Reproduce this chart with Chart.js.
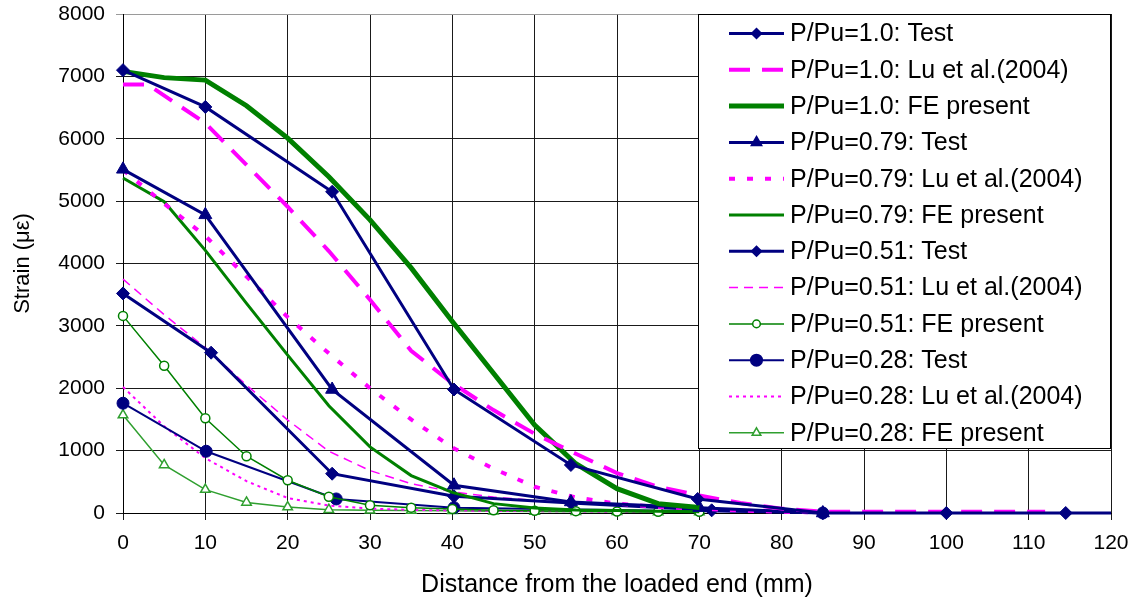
<!DOCTYPE html>
<html lang="en">
<head>
<meta charset="UTF-8">
<title>Strain vs distance from the loaded end</title>
<script src="https://cdn.jsdelivr.net/npm/chart.js@4"></script>
<style>
  html, body { margin: 0; padding: 0; background: #fff; }
  #wrap { width: 1142px; height: 603px; }
</style>
</head>
<body>
<div id="wrap"><canvas id="strainChart" width="1142" height="603"></canvas></div>
<script>
// data (distance in mm, strain in micro-strain)
const xTest10 = [0, 10, 25.4, 40.2, 54.4, 69.8, 85, 100, 114.5, 125];
const yTest10 = [7100, 6510, 5150, 1980, 770, 225, 0, 0, 0, 0];
const xLu10 = [0, 3, 10, 15, 20, 25, 30, 35, 40, 45, 50, 55, 60, 65, 70, 75, 80, 85, 90, 100, 112];
const yLu10 = [6870, 6870, 6250, 5580, 4910, 4200, 3420, 2600, 2080, 1650, 1270, 950, 640, 420, 280, 160, 70, 20, 20, 20, 20];
const xFE10 = [0, 5, 10, 15, 20, 25, 30, 35, 40, 45, 50, 55, 60, 65, 70];
const yFE10 = [7080, 6980, 6940, 6530, 6010, 5390, 4700, 3930, 3070, 2240, 1410, 790, 390, 150, 90];

const xTest079 = [0, 10, 25.4, 40.2, 54.4, 70, 85];
const yTest079 = [5510, 4780, 1980, 445, 177, 86, 0];
const xLu079 = [0, 5, 10, 15, 20, 25, 30, 35, 40, 45, 50, 55, 60, 65, 70, 75, 80, 85];
const yLu079 = [5500, 4960, 4440, 3790, 3140, 2560, 2000, 1500, 1050, 710, 420, 250, 150, 95, 70, 40, 20, 10];
const xFE079 = [0, 5, 10, 15, 20, 25, 30, 35, 40, 45, 50, 55, 60, 65, 70];
const yFE079 = [5370, 4990, 4210, 3360, 2530, 1720, 1060, 600, 330, 150, 80, 50, 40, 30, 20];

const xTest051 = [0, 10.7, 25.4, 40.2, 54.4, 71.5, 85];
const yTest051 = [3520, 2570, 630, 268, 160, 43, 0];
const xLu051 = [0, 5, 10, 15, 20, 25, 30, 35, 40, 45, 50, 55, 60, 65, 70, 75, 80];
const yLu051 = [3750, 3180, 2650, 2050, 1490, 990, 680, 470, 340, 255, 200, 160, 120, 90, 60, 40, 20];
const xFE051 = [0, 5, 10, 15, 20, 25, 30, 35, 40, 45, 50, 55, 60, 65, 70];
const yFE051 = [3160, 2360, 1520, 910, 525, 260, 124, 86, 65, 45, 35, 30, 25, 20, 20];

const xTest028 = [0, 10.1, 25.9, 40.2, 85];
const yTest028 = [1760, 990, 225, 86, 0];
const xLu028 = [0, 5, 10, 15, 20, 25, 30, 35, 40, 45, 50, 55, 60, 65, 70];
const yLu028 = [2020, 1390, 880, 510, 240, 120, 70, 50, 40, 35, 30, 25, 20, 20, 15];
const xFE028 = [0, 5, 10, 15, 20, 25, 30, 35, 40, 45, 50, 55, 60, 65, 70];
const yFE028 = [1570, 770, 375, 170, 96, 54, 43, 40, 35, 30, 25, 20, 20, 15, 15];

const xTicks = [0, 10, 20, 30, 40, 50, 60, 70, 80, 90, 100, 110, 120];
const yTicks = [0, 1000, 2000, 3000, 4000, 5000, 6000, 7000, 8000];

const NAVY = '#000080';
const PINK = '#FF00FF';
const GREEN = '#008000';
const LGREEN = '#2F9F2F';
const FONT = "'Liberation Sans', Arial, sans-serif";

function pts(xs, ys) {
    return xs.map((x, i) => ({ x: x, y: ys[i] }));
}

// one helper per kind of series so the options stay short
function testSet(label, xs, ys, style, r, lw, legR) {
    return {
        label: label, data: pts(xs, ys),
        borderColor: NAVY, backgroundColor: NAVY, borderWidth: lw,
        pointStyle: style, pointRadius: r, pointBackgroundColor: NAVY,
        pointBorderColor: NAVY, pointBorderWidth: 1, legR: legR
    };
}
function luSet(label, xs, ys, lw, dash) {
    return {
        label: label, data: pts(xs, ys),
        borderColor: PINK, backgroundColor: PINK, borderWidth: lw,
        borderDash: dash, pointRadius: 0, legR: 0
    };
}
function feSet(label, xs, ys, color, lw, style, r, legR) {
    return {
        label: label, data: pts(xs, ys),
        borderColor: color, backgroundColor: color, borderWidth: lw,
        pointStyle: style || 'circle', pointRadius: r || 0,
        pointBackgroundColor: '#ffffff', pointBorderColor: color,
        pointBorderWidth: 1.5, legR: legR || 0
    };
}

const datasets = [
    testSet('P/Pu=1.0: Test', xTest10, yTest10, 'rectRot', 6.5, 3, 5),
    luSet('P/Pu=1.0: Lu et al.(2004)', xLu10, yLu10, 4, [21, 12]),
    feSet('P/Pu=1.0: FE present', xFE10, yFE10, GREEN, 5),
    testSet('P/Pu=0.79: Test', xTest079, yTest079, 'triangle', 7.5, 3, 6),
    luSet('P/Pu=0.79: Lu et al.(2004)', xLu079, yLu079, 4, [6, 12]),
    feSet('P/Pu=0.79: FE present', xFE079, yFE079, GREEN, 3),
    testSet('P/Pu=0.51: Test', xTest051, yTest051, 'rectRot', 6.5, 3, 5),
    luSet('P/Pu=0.51: Lu et al.(2004)', xLu051, yLu051, 1.5, [9, 6]),
    feSet('P/Pu=0.51: FE present', xFE051, yFE051, GREEN, 1.5, 'circle', 4.5, 3.8),
    testSet('P/Pu=0.28: Test', xTest028, yTest028, 'circle', 6, 2, 5.8),
    luSet('P/Pu=0.28: Lu et al.(2004)', xLu028, yLu028, 2, [3, 4]),
    feSet('P/Pu=0.28: FE present', xFE028, yFE028, LGREEN, 1.5, 'triangle', 5.5, 5)
];
datasets.forEach(d => {
    d.tension = 0;
    d.fill = false;
    d.clip = { left: 12, top: 12, right: 0, bottom: 12 };
});

function drawMarker(ctx, style, x, y, r, fill, stroke) {
    ctx.save();
    ctx.beginPath();
    if (style === 'rectRot') {
        ctx.moveTo(x - r, y); ctx.lineTo(x, y - r); ctx.lineTo(x + r, y); ctx.lineTo(x, y + r);
        ctx.closePath();
    } else if (style === 'triangle') {
        ctx.moveTo(x, y - r); ctx.lineTo(x + r * 0.866, y + r * 0.5); ctx.lineTo(x - r * 0.866, y + r * 0.5);
        ctx.closePath();
    } else {
        ctx.arc(x, y, r, 0, Math.PI * 2);
    }
    ctx.fillStyle = fill;
    ctx.fill();
    ctx.setLineDash([]);
    ctx.lineWidth = 1.5;
    ctx.strokeStyle = stroke;
    ctx.stroke();
    ctx.restore();
}

// boxed legend sitting in the top right corner of the plot, like the original
const boxLegend = {
    id: 'boxLegend',
    afterDraw(chart) {
        const ctx = chart.ctx;
        const area = chart.chartArea;
        const w = 413, h = 435;
        const left = area.right - w, top = area.top;
        ctx.save();
        ctx.fillStyle = '#ffffff';
        ctx.fillRect(left, top, w, h);
        ctx.strokeStyle = '#000000';
        ctx.lineWidth = 1;
        ctx.strokeRect(left + 0.5, top + 0.5, w - 1, h - 1);
        ctx.font = '25px ' + FONT;
        ctx.textBaseline = 'middle';
        ctx.textAlign = 'left';
        chart.data.datasets.forEach((d, i) => {
            const y = top + 19.5 + i * 36.3;
            const x1 = left + 31, x2 = left + 86;
            ctx.save();
            ctx.beginPath();
            ctx.strokeStyle = d.borderColor;
            ctx.lineWidth = d.borderWidth;
            ctx.setLineDash(d.borderDash || []);
            ctx.moveTo(x1, y);
            ctx.lineTo(x2, y);
            ctx.stroke();
            ctx.restore();
            if (d.legR > 0) {
                drawMarker(ctx, d.pointStyle, (x1 + x2) / 2, y, d.legR, d.pointBackgroundColor, d.pointBorderColor);
            }
            ctx.fillStyle = '#000000';
            ctx.fillText(d.label, left + 92, y + 1);
        });
        ctx.restore();
    }
};

const ctx = document.getElementById('strainChart').getContext('2d');
const strainChart = new Chart(ctx, {
    type: 'line',
    data: { datasets: datasets },
    options: {
        responsive: false,
        animation: false,
        layout: { padding: { top: 14, right: 31, left: 0, bottom: 0 } },
        plugins: {
            legend: { display: false },
            tooltip: { enabled: false }
        },
        scales: {
            x: {
                type: 'linear',
                min: 0,
                max: 120,
                afterBuildTicks: s => { s.ticks = xTicks.map(v => ({ value: v })); },
                afterFit: s => { s.height = 90; s.paddingLeft = 0; s.paddingRight = 0; },
                grid: { color: '#1a1a1a', lineWidth: 1, tickLength: 7 },
                border: { color: '#000000', width: 1 },
                ticks: {
                    color: '#000000',
                    font: { family: FONT, size: 21 },
                    padding: 11,
                    maxRotation: 0,
                    callback: v => String(v)
                },
                title: {
                    display: true,
                    text: 'Distance from the loaded end (mm)',
                    color: '#000000',
                    font: { family: FONT, size: 25 },
                    padding: { top: 0, bottom: 3 }
                }
            },
            y: {
                type: 'linear',
                min: 0,
                max: 8000,
                afterBuildTicks: s => { s.ticks = yTicks.map(v => ({ value: v })); },
                afterFit: s => { s.width = 123; s.paddingTop = 0; s.paddingBottom = 0; },
                grid: {
                    color: c => (c.tick && c.tick.value === 8000) ? '#9a9a9a' : '#1a1a1a',
                    lineWidth: 1,
                    tickLength: 7
                },
                border: { color: '#000000', width: 1 },
                ticks: {
                    color: '#000000',
                    font: { family: FONT, size: 21 },
                    padding: 11,
                    callback: v => String(v)
                },
                title: {
                    display: true,
                    text: 'Strain (με)',
                    color: '#000000',
                    font: { family: FONT, size: 22 },
                    padding: { top: 10, bottom: 0 }
                }
            }
        }
    },
    plugins: [boxLegend]
});
</script>
</body>
</html>
